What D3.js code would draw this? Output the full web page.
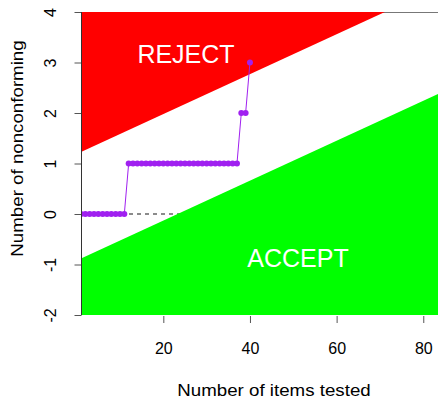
<!DOCTYPE html>
<html>
<head>
<meta charset="utf-8">
<script src="https://cdn.jsdelivr.net/npm/d3@7"></script>
<style>
  body { margin: 0; background: #fff; }
  svg { display: block; font-family: "Liberation Sans", Arial, sans-serif; }
</style>
</head>
<body>
<svg id="chart" width="438" height="400"></svg>
<script>
// items tested and cumulative nonconforming count
const items = [1, 2, 3, 4, 5, 6, 7, 8, 9, 10, 11, 12, 13, 14, 15, 16, 17, 18, 19, 20,
  21, 22, 23, 24, 25, 26, 27, 28, 29, 30, 31, 32, 33, 34, 35, 36, 37, 38, 39, 40];
const nonconforming = [0, 0, 0, 0, 0, 0, 0, 0, 0, 0, 0, 1, 1, 1, 1, 1, 1, 1, 1, 1,
  1, 1, 1, 1, 1, 1, 1, 1, 1, 1, 1, 1, 1, 1, 1, 1, 1, 2, 2, 3];

// decision lines: intercept + slope * n
const rejectIntercept = 1.19;
const acceptIntercept = -0.92;
const slope = 0.0395;

const xDomain = [1, 83.4];
const yDomain = [-2, 4];
const xTicks = [20, 40, 60, 80];
const yTicks = [-2, -1, 0, 1, 2, 3, 4];

const svg = d3.select('#chart');
const plotLeft = 81, plotRight = 438, plotTop = 12, plotBottom = 315;

const x = d3.scaleLinear().domain(xDomain).range([plotLeft, plotRight]);
const y = d3.scaleLinear().domain(yDomain).range([plotBottom, plotTop]);

svg.append('clipPath').attr('id', 'plot-clip')
  .append('rect')
  .attr('x', plotLeft).attr('y', plotTop)
  .attr('width', plotRight - plotLeft).attr('height', plotBottom - plotTop);

const plot = svg.append('g').attr('clip-path', 'url(#plot-clip)');

// frame lines
plot.append('line')
  .attr('x1', plotLeft).attr('x2', plotRight)
  .attr('y1', plotTop + 0.5).attr('y2', plotTop + 0.5)
  .attr('stroke', '#777');
plot.append('line')
  .attr('x1', plotLeft).attr('x2', plotRight)
  .attr('y1', plotBottom - 0.5).attr('y2', plotBottom - 0.5)
  .attr('stroke', '#777');

// zero reference line
plot.append('line')
  .attr('x1', x(xDomain[0])).attr('x2', x(30))
  .attr('y1', y(0)).attr('y2', y(0))
  .attr('stroke', '#666')
  .attr('stroke-width', 1.5)
  .attr('stroke-dasharray', '4,4');

const line = d3.line().x(d => x(d[0])).y(d => y(d[1]));
const rej = n => rejectIntercept + slope * n;
const acc = n => acceptIntercept + slope * n;

plot.append('path')
  .attr('d', line([[xDomain[0], rej(xDomain[0])], [xDomain[1], rej(xDomain[1])],
    [xDomain[1], yDomain[1] + 1], [xDomain[0], yDomain[1] + 1]]) + 'Z')
  .attr('fill', '#ff0000');

plot.append('path')
  .attr('d', line([[xDomain[0], acc(xDomain[0])], [xDomain[1], acc(xDomain[1])],
    [xDomain[1], yDomain[0] - 1], [xDomain[0], yDomain[0] - 1]]) + 'Z')
  .attr('fill', '#00ff00');

// observed path
const pts = items.map((n, i) => [n, nonconforming[i]]);
plot.append('path')
  .attr('d', line(pts))
  .attr('fill', 'none')
  .attr('stroke', '#a020f0')
  .attr('stroke-width', 1);
plot.selectAll('.pt')
  .data(pts)
  .enter()
  .append('circle')
  .classed('pt', true)
  .attr('cx', d => x(d[0]))
  .attr('cy', d => y(d[1]))
  .attr('r', 3)
  .attr('fill', '#a020f0');

plot.append('text')
  .attr('x', 186).attr('y', 63)
  .attr('text-anchor', 'middle')
  .attr('fill', '#fff')
  .attr('font-size', 25)
  .text('REJECT');
plot.append('text')
  .attr('x', 298).attr('y', 267)
  .attr('text-anchor', 'middle')
  .attr('fill', '#fff')
  .attr('font-size', 25)
  .text('ACCEPT');

// axes
const axisY = d3.axisLeft(y).tickValues(yTicks).tickSize(7).tickFormat(d => String(d));
const gy = svg.append('g')
  .attr('transform', 'translate(' + (plotLeft + 0.5) + ',0)')
  .call(axisY);
gy.select('.domain').remove();
gy.selectAll('line').attr('stroke', '#555');
gy.selectAll('text')
  .attr('x', null).attr('dy', null)
  .attr('transform', 'translate(-26,0) rotate(-90)')
  .attr('text-anchor', 'middle')
  .attr('font-size', 16)
  .attr('font-family', null)
  .attr('fill', '#000');
svg.append('line')
  .attr('x1', plotLeft + 0.5).attr('x2', plotLeft + 0.5)
  .attr('y1', plotTop).attr('y2', plotBottom)
  .attr('stroke', '#333');

const axisX = d3.axisBottom(x).tickValues(xTicks).tickSize(7);
const gx = svg.append('g')
  .attr('transform', 'translate(0,' + (plotBottom + 1) + ')')
  .call(axisX);
gx.select('.domain').remove();
gx.selectAll('line').attr('stroke', '#555');
gx.selectAll('text')
  .attr('y', 38).attr('dy', null)
  .attr('font-size', 16)
  .attr('font-family', null)
  .attr('fill', '#000');

// axis titles (slightly widened along their length, as in the reference)
svg.append('text')
  .attr('transform', 'translate(274,396) scale(1.17,1)')
  .attr('text-anchor', 'middle')
  .attr('font-size', 16)
  .text('Number of items tested');
svg.append('text')
  .attr('transform', 'translate(23,148.5) rotate(-90) scale(1.17,1)')
  .attr('text-anchor', 'middle')
  .attr('font-size', 16)
  .text('Number of nonconforming');
</script>
</body>
</html>
